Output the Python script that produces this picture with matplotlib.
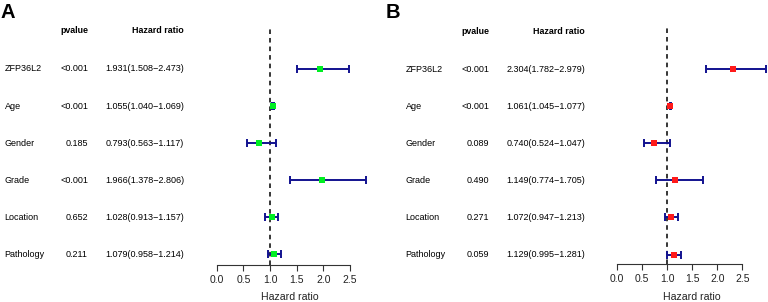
import matplotlib
matplotlib.use("Agg")
import matplotlib.pyplot as plt
import matplotlib.transforms as mtransforms
import numpy as np

plt.rcParams['font.family'] = ['Liberation Sans', 'DejaVu Sans']

variables = ["ZFP36L2", "Age", "Gender", "Grade", "Location", "Pathology"]

hr_a = [1.931, 1.055, 0.793, 1.966, 1.028, 1.079]
lo_a = [1.508, 1.040, 0.563, 1.378, 0.913, 0.958]
hi_a = [2.473, 1.069, 1.117, 2.806, 1.157, 1.214]
p_a = ["<0.001", "<0.001", "0.185", "<0.001", "0.652", "0.211"]

hr_b = [2.304, 1.061, 0.740, 1.149, 1.072, 1.129]
lo_b = [1.782, 1.045, 0.524, 0.774, 0.947, 0.995]
hi_b = [2.979, 1.077, 1.047, 1.705, 1.213, 1.281]
p_b = ["<0.001", "<0.001", "0.089", "0.490", "0.271", "0.059"]

xticks = [0.0, 0.5, 1.0, 1.5, 2.0, 2.5]

W, H = 768, 302
fig = plt.figure(figsize=(W / 100, H / 100), dpi=100)


def fx(px):
    return px / W


def fy(py):
    return 1 - py / H


def panel(letter, letter_x, x0_px, ppu, right_px, axis_y, label_x, p_right, hr_right,
          hr, lo, hi, pv, color, xlabel_center_px):
    n = len(variables)
    ypos = np.arange(n, 0, -1)
    row_top_px, row_bot_px = 69.0, 254.5
    scale = (row_bot_px - row_top_px) / (n - 1)
    ylo = 1 - (axis_y - row_bot_px) / scale
    top_px = 26.0
    yhi = ylo + (axis_y - top_px) / scale

    ax = fig.add_axes([fx(x0_px), fy(axis_y), fx(right_px - x0_px), (axis_y - top_px) / H])
    ax.set_xlim(0, (right_px - x0_px) / ppu)
    ax.set_ylim(ylo, yhi)
    for s in ["top", "right", "left"]:
        ax.spines[s].set_visible(False)
    ax.spines["bottom"].set_bounds(0, 2.5)
    ax.spines["bottom"].set_linewidth(0.8)
    ax.spines["bottom"].set_color("#333333")
    ax.set_yticks([])
    ax.set_xticks(xticks)
    ax.set_xticklabels([f"{t:.1f}" for t in xticks])
    ax.tick_params(axis="x", length=4.3, width=0.8, color="#333333", pad=3.0,
                   labelsize=7.5, labelcolor="#222222")
    ax.patch.set_alpha(0)

    ax.axvline(1.0, color="black", lw=1.1, ls=(0, (3, 2.6)), zorder=1)

    hr = np.array(hr)
    lo = np.array(lo)
    hi = np.array(hi)
    ax.errorbar(hr, ypos, xerr=[hr - lo, hi - hr], fmt="none", ecolor="#12128f",
                elinewidth=1.4, capsize=2.8, capthick=1.4, zorder=2, clip_on=False)
    ax.plot(hr, ypos, ls="none", marker="s", markersize=4.7, color=color,
            markeredgewidth=0, zorder=3, clip_on=False)

    lab = ax.set_xlabel("Hazard ratio", fontsize=7.6, color="#222222")
    ax.xaxis.set_label_coords((xlabel_center_px - x0_px) / (right_px - x0_px),
                              (axis_y - 296.5) / (axis_y - top_px))
    lab.set_va("center")

    tr = mtransforms.blended_transform_factory(fig.transFigure, ax.transData)
    fs = 6.5
    for y, name, p, h, l, u in zip(ypos, variables, pv, hr, lo, hi):
        fig.text(fx(label_x), y, name, transform=tr, ha="left", va="center", fontsize=fs)
        fig.text(fx(p_right), y, p, transform=tr, ha="right", va="center", fontsize=fs)
        fig.text(fx(hr_right), y, f"{h:.3f}({l:.3f}\u2212{u:.3f})", transform=tr,
                 ha="right", va="center", fontsize=fs)
    yh = ylo + (axis_y - 31.0) / scale
    fig.text(fx(p_right), yh, "pvalue", transform=tr, ha="right", va="center",
             fontsize=6.4, fontweight="bold")
    fig.text(fx(hr_right), yh, "Hazard ratio", transform=tr, ha="right", va="center",
             fontsize=6.4, fontweight="bold")

    fig.text(fx(letter_x), fy(12.5), letter, ha="left", va="center", fontsize=14.5,
             fontweight="bold")
    return ax


panel("A", 0.5, 216.7, 53.33, 380.0, 264.5, 4.5, 88.0, 184.0,
      hr_a, lo_a, hi_a, p_a, "#00ee22", 290.3)
panel("B", 386.0, 617.3, 50.0, 768.0, 264.0, 405.7, 489.3, 585.0,
      hr_b, lo_b, hi_b, p_b, "#ff1a1a", 692.0)

fig.savefig("out.png", dpi=100)
